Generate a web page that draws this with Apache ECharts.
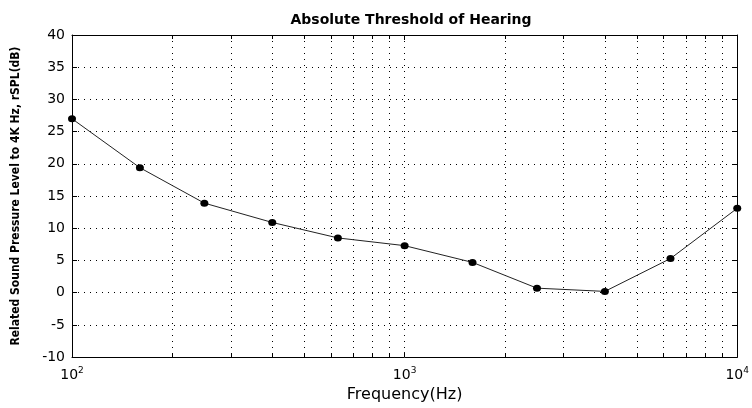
<!DOCTYPE html>
<html>
<head>
<meta charset="utf-8">
<script src="https://cdn.jsdelivr.net/npm/echarts@6/dist/echarts.min.js"></script>
<style>
  html, body { margin: 0; padding: 0; background: #fff; }
  #chart { width: 752px; height: 408px; }
</style>
</head>
<body>
<div id="chart"></div>
<script>
// Measured hearing threshold, relative to 4 kHz
const frequencies = [100, 160, 250, 400, 630, 1000, 1600, 2500, 4000, 6300, 10000];
const thresholdDb = [27.0, 19.4, 13.9, 10.9, 8.5, 7.3, 4.7, 0.7, 0.2, 5.3, 13.1];

// Minor decade positions for the log grid (2..9 x 10^n)
const minorFreqs = [200, 300, 400, 500, 600, 700, 800, 900,
                    2000, 3000, 4000, 5000, 6000, 7000, 8000, 9000];

const yTicks = { min: -10, max: 40, step: 5 };

const FONT = 'DejaVu Sans, Verdana, sans-serif';
const dotted = [1, 5];

const chart = echarts.init(document.getElementById('chart'), null, { renderer: 'canvas' });

const points = frequencies.map((f, i) => [f, thresholdDb[i]]);

function powerLabel(v) {
  const e = Math.round(Math.log10(v));
  return '10{sup|' + e + '}';
}

const boxAxis = {
  axisLine: { show: true, onZero: false, lineStyle: { color: '#000', width: 1 } },
  axisTick: { show: true, inside: true, length: 5, lineStyle: { color: '#000' } }
};

chart.setOption({
  animation: false,
  backgroundColor: '#fff',
  title: {
    text: 'Absolute Threshold of Hearing',
    left: 406,
    textAlign: 'center',
    top: 8,
    textStyle: { fontFamily: FONT, fontWeight: 'bold', fontSize: 14, color: '#000' }
  },
  grid: { left: 72, right: 11, top: 35, bottom: 41, containLabel: false },
  xAxis: [
    Object.assign({
      type: 'log', logBase: 10, min: 100, max: 10000, position: 'bottom',
      name: 'Frequency(Hz)', nameLocation: 'middle', nameGap: 26,
      nameTextStyle: { fontFamily: FONT, fontSize: 16, color: '#000' },
      axisLabel: {
        formatter: powerLabel, margin: 9, color: '#000',
        fontFamily: FONT, fontSize: 14,
        rich: { sup: { fontSize: 9, fontFamily: FONT, color: '#000', padding: [0, 0, 9, 0] } }
      },
      splitLine: { show: true, lineStyle: { color: '#000', width: 1, type: dotted } }
    }, boxAxis),
    Object.assign({
      type: 'log', logBase: 10, min: 100, max: 10000, position: 'top',
      axisLabel: { show: false },
      splitLine: { show: false }
    }, boxAxis)
  ],
  yAxis: [
    Object.assign({
      type: 'value', min: yTicks.min, max: yTicks.max, interval: yTicks.step, position: 'left',
      name: 'Related Sound Pressure Level to 4K Hz, rSPL(dB)',
      nameLocation: 'middle', nameGap: 50, nameRotate: 90,
      nameTextStyle: { fontFamily: 'DejaVu Sans Condensed, Liberation Sans Narrow, Liberation Sans, sans-serif', fontWeight: 'bold', fontSize: 12, color: '#000' },
      axisLabel: { color: '#000', fontFamily: FONT, fontSize: 14, margin: 7 },
      splitLine: { show: true, lineStyle: { color: '#000', width: 1, type: dotted } }
    }, boxAxis),
    Object.assign({
      type: 'value', min: yTicks.min, max: yTicks.max, interval: yTicks.step, position: 'right',
      axisLabel: { show: false },
      splitLine: { show: false }
    }, boxAxis)
  ],
  series: [
    {
      // minor log grid lines and their ticks on the bottom and top edges
      type: 'custom',
      xAxisIndex: 0, yAxisIndex: 0,
      silent: true, z: 1,
      data: minorFreqs.map(f => [f, 0]),
      encode: { x: 0, y: 1 },
      renderItem: function (params, api) {
        const x = Math.round(api.coord([api.value(0), 0])[0]) + 0.5;
        const cs = params.coordSys;
        const top = cs.y, bottom = cs.y + cs.height;
        return {
          type: 'group',
          children: [
            { type: 'line', shape: { x1: x, y1: top, x2: x, y2: bottom },
              style: { stroke: '#000', lineWidth: 1, lineDash: dotted } },
            { type: 'line', shape: { x1: x, y1: bottom, x2: x, y2: bottom - 4 },
              style: { stroke: '#000', lineWidth: 1 } },
            { type: 'line', shape: { x1: x, y1: top, x2: x, y2: top + 4 },
              style: { stroke: '#000', lineWidth: 1 } }
          ]
        };
      }
    },
    {
      type: 'line',
      xAxisIndex: 0, yAxisIndex: 0,
      data: points,
      z: 5,
      symbol: 'circle', symbolSize: [8, 7],
      itemStyle: { color: '#000' },
      lineStyle: { color: '#222', width: 1 }
    }
  ]
});
</script>
</body>
</html>
